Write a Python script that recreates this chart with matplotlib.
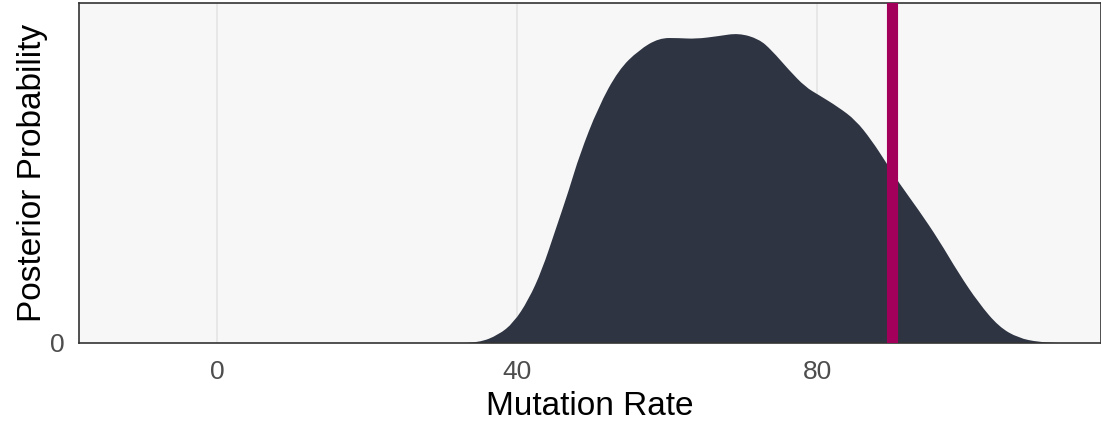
import matplotlib
matplotlib.use('Agg')
import matplotlib.pyplot as plt
from matplotlib.path import Path
from matplotlib.patches import PathPatch

# posterior density (relative height, peak = 1)
mutation_rate = [32.9, 34.9, 37.5, 39.5, 41.5, 43.3, 45.1, 46.9, 48.3, 50.8,
                 53.5, 56.2, 58.9, 61.5, 63.8, 66.8, 69.5, 72.2, 73.9, 76.2,
                 78.4, 80.2, 82.8, 85.1, 87.2, 89.2, 90.8, 93.5, 96.2, 98.8,
                 101.5, 104.2, 106.8, 109.5, 112.1]
density = [0.000, 0.001, 0.026, 0.065, 0.139, 0.235, 0.365, 0.494, 0.606, 0.761,
           0.881, 0.945, 0.984, 0.984, 0.981, 0.990, 1.000, 0.981, 0.945, 0.881,
           0.826, 0.800, 0.761, 0.719, 0.655, 0.581, 0.519, 0.429, 0.332, 0.226,
           0.129, 0.052, 0.016, 0.003, 0.000]
true_rate = 90
x_ticks = [0, 40, 80]

plt.rcParams['font.family'] = ['Liberation Sans', 'DejaVu Sans']

fig = plt.figure(figsize=(11.01, 4.21), dpi=100)
ax = fig.add_axes([79 / 1101, 78 / 421, 1 - 79 / 1101, 340 / 421])
ax.set_facecolor('#F7F7F7')

# vertical grid only
for t in x_ticks:
    ax.axvline(t, color='#E6E6E6', linewidth=1.3, zorder=0)

# smooth outline: quadratic bezier through the midpoints, read points as controls
pts = list(zip(mutation_rate, density))
verts = [pts[0]]
codes = [Path.MOVETO]
for i in range(1, len(pts) - 1):
    mid = ((pts[i][0] + pts[i + 1][0]) / 2, (pts[i][1] + pts[i + 1][1]) / 2)
    verts += [pts[i], mid]
    codes += [Path.CURVE3, Path.CURVE3]
verts += [pts[-1], pts[0], pts[0]]
codes += [Path.LINETO, Path.LINETO, Path.CLOSEPOLY]
ax.add_patch(PathPatch(Path(verts, codes), facecolor='#2E3442', edgecolor='none', zorder=2))

ax.axvline(true_rate, color='#A2005A', linewidth=8, zorder=3)

ax.set_xlim(-18.4, 117.8)
ax.set_ylim(0, 1.097)
ax.set_xticks(x_ticks)
ax.set_yticks([0])
ax.tick_params(axis='both', length=0, labelsize=19, labelcolor='#4D4D4D', pad=12)
ax.tick_params(axis='y', pad=10)

for side in ['left', 'bottom', 'top', 'right']:
    ax.spines[side].set_color('#333333')
    ax.spines[side].set_linewidth(1.2)

ax.set_xlabel('Mutation Rate', fontsize=24, labelpad=5)
ax.set_ylabel('Posterior Probability', fontsize=24, labelpad=2)

fig.savefig('out.png', dpi=100)
